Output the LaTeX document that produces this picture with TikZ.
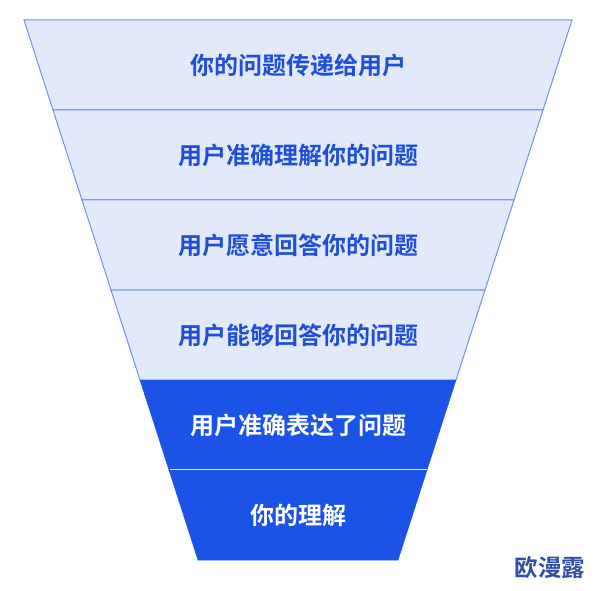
\documentclass[tikz,border=0pt]{standalone}
\usepackage{fontspec}
\newfontfamily\cjk{Noto Sans CJK SC}[BoldFont={Noto Sans CJK SC Bold}]
\definecolor{lightfill}{HTML}{E1E9FB}
\definecolor{lightline}{HTML}{6E94E6}
\definecolor{darkfill}{HTML}{1A53E6}
\definecolor{textblue}{HTML}{1D4FD8}
\definecolor{wmblue}{HTML}{2F4FA6}
\begin{document}
\begin{tikzpicture}[x=1pt,y=1pt,
  lightrow/.style={fill=lightfill,draw=lightline,line width=1pt,line join=miter},
  darkrow/.style={fill=darkfill,draw=darkfill,line width=0.5pt},
  lighttext/.style={font=\cjk\bfseries\fontsize{24}{26}\selectfont,text=textblue},
  darktext/.style={font=\cjk\bfseries\fontsize{24}{26}\selectfont,text=white},
  sep/.style={draw=white!85!darkfill,line width=1pt}]
\useasboundingbox (0,0) rectangle (594,590);
% light rows
\path[lightrow] (24,570) -- (572,570) -- (543,480) -- (53,480) -- cycle;
\path[lightrow] (53,480) -- (543,480) -- (514,390) -- (82,390) -- cycle;
\path[lightrow] (82,390) -- (514,390) -- (485,300) -- (111,300) -- cycle;
\path[lightrow] (111,300) -- (485,300) -- (456,210) -- (140,210) -- cycle;
% dark rows
\path[darkrow] (140,210) -- (456,210) -- (427,120) -- (169,120) -- cycle;
\path[darkrow] (169,120) -- (427,120) -- (398,30) -- (198,30) -- cycle;
\draw[sep] (169.5,120.5) -- (426.5,120.5);
% texts
\node[lighttext] (r1) at (298,525) {你的问题传递给用户};
\node[lighttext] (r2) at (298,435) {用户准确理解你的问题};
\node[lighttext] (r3) at (298,345) {用户愿意回答你的问题};
\node[lighttext] (r4) at (298,255) {用户能够回答你的问题};
\node[darktext] (r5) at (298,165) {用户准确表达了问题};
\node[darktext] (r6) at (298,75) {你的理解};
\node[font=\cjk\bfseries\fontsize{23.5}{25}\selectfont,text=wmblue] (wm) at (550,22) {欧漫露};
\end{tikzpicture}
\end{document}
